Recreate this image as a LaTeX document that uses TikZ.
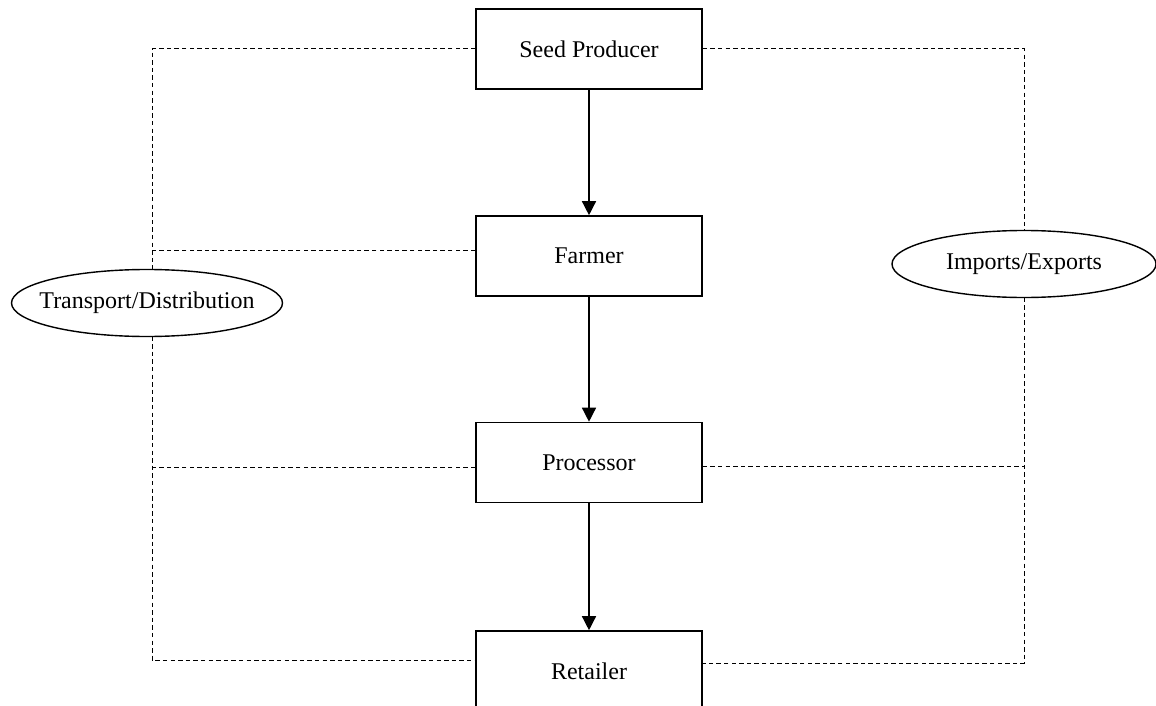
\documentclass[tikz,border=0pt]{standalone}
\usepackage{fontspec}
\setmainfont{Liberation Serif}
\usetikzlibrary{arrows.meta,shapes.geometric}
\begin{document}
\begin{tikzpicture}[x=0.5pt,y=-0.5pt,
  box/.style={draw,line width=0.8pt,minimum width=113pt,minimum height=40pt,inner sep=0pt,font=\fontsize{12}{14}\selectfont},
  ovaltext/.style={inner sep=0pt,font=\fontsize{12}{14}\selectfont},
  ovalline/.style={line width=0.7pt},
  dline/.style={line width=0.5pt,dash pattern=on 2.2pt off 1.6pt},
  arr/.style={line width=0.7pt,-{Triangle[length=7pt,width=7pt]}}]
\useasboundingbox (0,0) rectangle (1156,706);
\clip (0,0) rectangle (1156,706);
\node[box] (seed) at (589,49) {Seed Producer};
\node[box] (farmer) at (589,256) {Farmer};
\node[box] (proc) at (589,462.5) {Processor};
\node[box] (ret) at (589,671) {Retailer};
\node[ovaltext] (trans) at (147,303) {Transport/Distribution};
\draw[ovalline] (trans.center) ellipse [x radius=67.75pt, y radius=16.75pt];
\node[ovaltext] (imp) at (1024,264) {Imports/Exports};
\draw[ovalline] (imp.center) ellipse [x radius=66pt, y radius=16.75pt];
\coordinate (tTop) at (152,269.5);
\coordinate (tBot) at (152,336.5);
\coordinate (iTop) at (1024,230.5);
\coordinate (iBot) at (1024,297.5);
\draw[arr] (seed.south) -- (farmer.north);
\draw[arr] (farmer.south) -- (proc.north);
\draw[arr] (proc.south) -- (ret.north);
\draw[dline] (seed.west) -| (tTop);
\draw[dline] ([yshift=3pt]farmer.west) -- ([yshift=3pt]farmer.west -| tTop);
\draw[dline] (tBot) |- ([yshift=5.5pt]ret.west);
\draw[dline] ([yshift=-2.5pt]proc.west) -- ([yshift=-2.5pt]proc.west -| tBot);
\draw[dline] (seed.east) -| (iTop);
\draw[dline] (iBot) |- ([yshift=4pt]ret.east);
\draw[dline] ([yshift=-2pt]proc.east) -- ([yshift=-2pt]proc.east -| iBot);
\end{tikzpicture}
\end{document}
